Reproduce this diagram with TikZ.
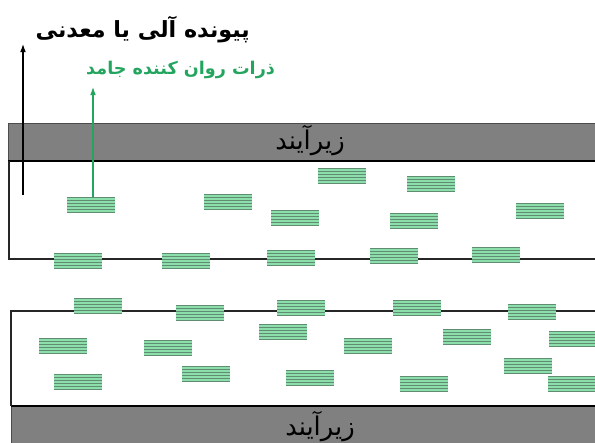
\documentclass[tikz,border=0pt]{standalone}
\usepackage{fontspec}
\usepackage{tikz}
\usetikzlibrary{arrows,arrows.meta,positioning,calc}
\newfontfamily\farsifont[Script=Arabic]{DejaVu Sans}
\TeXXeTstate=1
\definecolor{lubegreen}{RGB}{140,222,170}
\definecolor{stripegray}{RGB}{95,140,115}
\definecolor{labelgreen}{RGB}{35,165,95}
\definecolor{substrategray}{RGB}{128,128,128}

\begin{document}
\begin{tikzpicture}[x=0.03cm,y=-0.03cm]
  \tikzset{particle/.style={fill=lubegreen,inner sep=0pt,minimum width=1.44cm,minimum height=0.45cm,
      path picture={\foreach \k in {0,...,5}{\draw[stripegray,line width=0.7pt]
        ($(path picture bounding box.north west)!\k/5!(path picture bounding box.south west)$) --
        ($(path picture bounding box.north east)!\k/5!(path picture bounding box.south east)$);}}}}
  \tikzset{substrate/.style={fill=substrategray,draw=black!70,line width=0.6pt}}
  \tikzset{wall/.style={black!85,line width=1.2pt}}
  \tikzset{pointer/.style={-{Latex[length=7pt,width=5pt]},line width=0.9pt}}
  \tikzset{subtext/.style={font=\farsifont\fontsize{22}{24}\selectfont}}
  \useasboundingbox (0,0) rectangle (595,442);
  % substrates
  \path[substrate] (8,123) rectangle (605,161);
  \draw[line width=1.8pt] (8,161) -- (605,161);
  \path[substrate] (11,406) rectangle (605,450);
  \draw[line width=1.8pt] (11,406) -- (605,406);
  \node[subtext] (topsub) at (310,141) {\beginR زیرآیند\endR};
  \node[subtext] (botsub) at (320,427) {\beginR زیرآیند\endR};
  % walls of the two surfaces
  \draw[wall] (9,161) -- (9,259) -- (600,259);
  \draw[wall] (600,311) -- (11,311) -- (11,406);
  % solid lubricant particles
  \foreach \name/\px/\py in {u1/91/205,u2/228/202,u3/295/218,u4/342/176,u5/431/184,u6/414/221,u7/540/211,
      e1/78/261,e2/186/261,e3/291/258,e4/394/256,e5/496/255,
      f1/98/306,f2/200/313,f3/301/308,f4/417/308,f5/532/312,
      l1/63/346,l2/168/348,l3/283/332,l4/78/382,l5/206/374,l6/310/378,
      l7/368/346,l8/467/337,l9/573/339,l10/528/366,l11/424/384,l12/572/384}
    \node[particle] (\name) at (\px,\py) {};
  % labels
  \node[font=\farsifont\bfseries\fontsize{19}{21}\selectfont,anchor=east] (bond) at (254,30) {\beginR پیونده آلی یا معدنی\endR};
  \node[font=\farsifont\bfseries\fontsize{15}{17}\selectfont,labelgreen,anchor=east] (lube) at (279,70) {\beginR ذرات روان کننده جامد\endR};
  \coordinate (bondtail) at (23,195);
  \coordinate (bondhead) at (23,44);
  \coordinate (lubehead) at (93,87);
  \draw[pointer] (bondtail) -- (bondhead);
  \draw[pointer,labelgreen] (u1.north -| lubehead) -- (lubehead);
\end{tikzpicture}
\end{document}
